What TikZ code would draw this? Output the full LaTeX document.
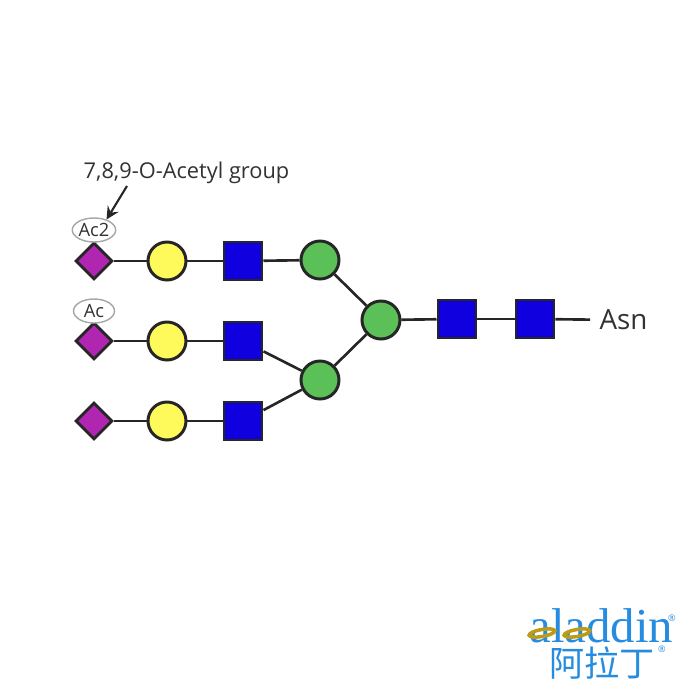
\documentclass[tikz,border=0pt]{standalone}
\usepackage{fontspec}
\setmainfont{Open Sans}
\newfontfamily\logofont{Liberation Serif}
\newfontfamily\logocjk{Noto Sans CJK SC}
\usetikzlibrary{shapes.geometric}
\definecolor{sugarblue}{RGB}{16,0,224}
\definecolor{sugargreen}{RGB}{92,192,88}
\definecolor{sugaryellow}{RGB}{255,250,92}
\definecolor{sugarpurple}{RGB}{176,38,176}
\definecolor{logoblue}{RGB}{38,140,224}
\definecolor{logogold}{RGB}{190,155,20}
\definecolor{labelgray}{RGB}{50,50,50}
\tikzset{
    hexnac/.style={draw=black!85, line width=0.85pt, fill=sugarblue, minimum size=0.38cm, inner sep=0pt},
    mannose/.style={circle, draw=black!85, line width=0.85pt, fill=sugargreen, minimum size=0.38cm, inner sep=0pt},
    galactose/.style={circle, draw=black!85, line width=0.85pt, fill=sugaryellow, minimum size=0.38cm, inner sep=0pt},
    sialic/.style={diamond, draw=black!85, line width=0.85pt, fill=sugarpurple, minimum size=0.37cm, inner sep=0pt},
    acetyl/.style={ellipse, draw=black!35, line width=0.4pt, fill=white, minimum width=0.41cm, minimum height=0.24cm, inner sep=0pt, font=\fontsize{5.2}{6}\selectfont, text=labelgray},
    bond/.style={draw=black!85, line width=0.75pt},
    logoring/.style={ellipse, draw=logogold, line width=1pt, rotate=10, minimum width=0.26cm, minimum height=0.07cm, inner sep=0pt}
}
\begin{document}
\begin{tikzpicture}
    \useasboundingbox (0, 0) rectangle (7, 7);

    % Top branch
    \node[sialic] (siaA) at (0.94, 4.39) {};
    \node[galactose] (galA) at (1.67, 4.39) {};
    \node[hexnac] (glcA) at (2.43, 4.39) {};
    \node[mannose] (manA) at (3.20, 4.40) {};

    % Middle branch
    \node[sialic] (siaB) at (0.94, 3.59) {};
    \node[galactose] (galB) at (1.67, 3.59) {};
    \node[hexnac] (glcB) at (2.43, 3.59) {};

    % Bottom branch
    \node[sialic] (siaC) at (0.94, 2.79) {};
    \node[galactose] (galC) at (1.67, 2.79) {};
    \node[hexnac] (glcC) at (2.43, 2.79) {};
    \node[mannose] (manB) at (3.20, 3.20) {};

    % Core
    \node[mannose] (manC) at (3.81, 3.80) {};
    \node[hexnac] (coreA) at (4.57, 3.81) {};
    \node[hexnac] (coreB) at (5.35, 3.81) {};
    \node[text=labelgray, font=\fontsize{7.9}{9}\selectfont, inner sep=2.5pt] (asn) at (6.235, 3.80) {Asn};

    % Bonds
    \draw[bond] (siaA) -- (galA);
    \draw[bond] (galA) -- (glcA);
    \draw[bond] (glcA) -- (manA);
    \draw[bond] (siaB) -- (galB);
    \draw[bond] (galB) -- (glcB);
    \draw[bond] (siaC) -- (galC);
    \draw[bond] (galC) -- (glcC);
    \draw[bond] (glcB) -- (manB);
    \draw[bond] (glcC) -- (manB);
    \draw[bond] (manA) -- (manC);
    \draw[bond] (manB) -- (manC);
    \draw[bond] (manC) -- (coreA);
    \draw[bond] (coreA) -- (coreB);
    \draw[bond] (coreB) -- (asn);

    % Acetyl labels
    \node[acetyl] (acTwo) at (0.94, 4.70) {Ac2};
    \node[acetyl] (acOne) at (0.94, 3.89) {Ac};
    \node[text=labelgray, font=\fontsize{6.2}{7}\selectfont, inner sep=0pt] (group) at (1.865, 5.27) {7,8,9-O-Acetyl group};
    \coordinate (groupend) at (1.27, 5.14);
    \draw[-stealth, draw=black!85, line width=0.6pt] (groupend) -- (acTwo.40);

    % Logo
    \node[text=logoblue, font=\logofont\fontsize{13.9}{15}\selectfont, inner sep=0pt] (logoname) at (6.015, 0.74) {aladdin};
    \node[logoring] (ringA) at (5.42, 0.67) {};
    \node[logoring] (ringB) at (5.77, 0.67) {};
    \node[text=logoblue, font=\logocjk\fontsize{10}{11}\selectfont, inner sep=0pt] (logocn) at (6.02, 0.37) {阿拉丁};
    \node[text=logoblue, font=\fontsize{2.6}{3}\selectfont, inner sep=0pt] (markA) at (6.72, 0.82) {®};
    \node[text=logoblue, font=\fontsize{2.6}{3}\selectfont, inner sep=0pt] (markB) at (6.62, 0.51) {®};
\end{tikzpicture}
\end{document}
